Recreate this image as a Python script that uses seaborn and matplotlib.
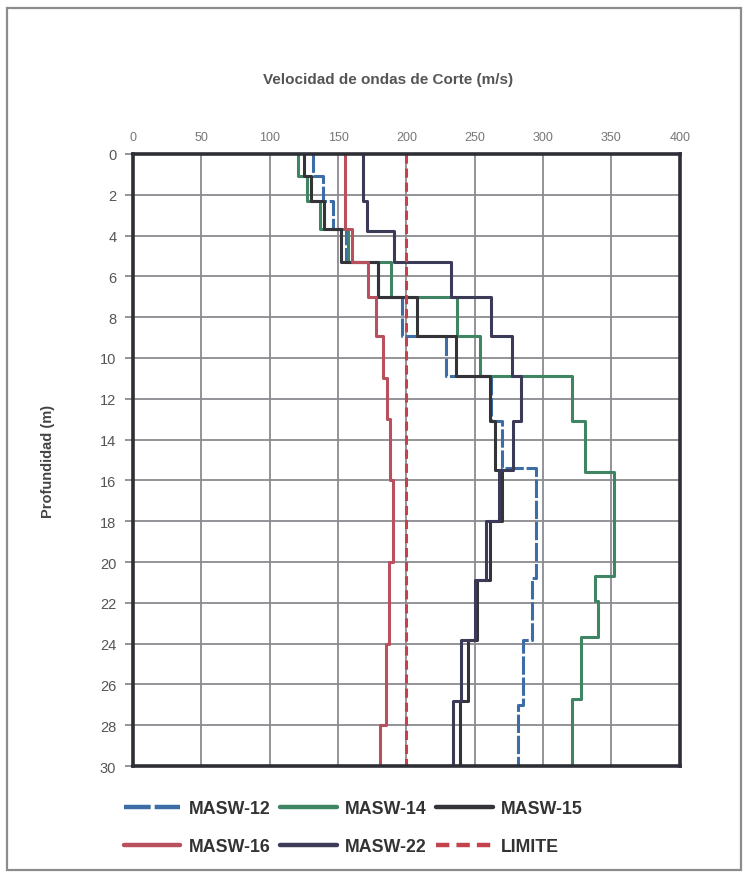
import pandas as pd
import seaborn as sns
import matplotlib.pyplot as plt
from matplotlib.patches import Rectangle

# Depth of the bottom of each layer (m); every layer starts where the previous ends
bottoms_12 = [1.1, 2.3, 3.7, 5.3, 7.0, 8.9, 10.9, 13.1, 15.4, 20.8, 23.8, 27.0, 30.0]
vs_12 = [132, 139, 146, 156, 179, 197, 229, 262, 270, 295, 292, 285, 282]

bottoms_14 = [1.1, 2.3, 3.7, 5.3, 7.0, 8.9, 10.9, 13.1, 15.6, 20.7, 21.9, 23.7, 26.7, 30.0]
vs_14 = [121, 127, 137, 157, 189, 237, 254, 321, 331, 352, 338, 340, 328, 321]

bottoms_15 = [1.1, 2.3, 3.7, 5.3, 7.0, 8.9, 10.9, 13.1, 15.5, 18.0, 20.9, 23.8, 26.8, 30.0]
vs_15 = [125, 130, 140, 152, 179, 208, 236, 261, 265, 270, 261, 252, 245, 239]

bottoms_16 = [3.7, 5.3, 7.0, 8.9, 11.0, 13.0, 16.0, 20.0, 24.0, 28.0, 30.0]
vs_16 = [155, 160, 172, 178, 183, 186, 188, 190, 187, 185, 181]

bottoms_22 = [2.3, 3.8, 5.3, 7.0, 8.9, 10.9, 13.1, 15.5, 18.0, 20.9, 23.8, 26.8, 30.0]
vs_22 = [168, 171, 191, 233, 262, 277, 284, 278, 268, 258, 250, 240, 234]

limite_vs = 200
series_names = ["MASW-12", "MASW-14", "MASW-15", "MASW-16", "MASW-22", "LIMITE"]
x_ticks = [0, 50, 100, 150, 200, 250, 300, 350, 400]
y_ticks = list(range(0, 31, 2))

colors = {
    "MASW-12": "#3d6da6",
    "MASW-14": "#3f8563",
    "MASW-15": "#333338",
    "MASW-16": "#b9505e",
    "MASW-22": "#3b3b58",
    "LIMITE": "#c4424c",
}
dashes = {
    "MASW-12": (6, 0.9),
    "MASW-14": "",
    "MASW-15": "",
    "MASW-16": "",
    "MASW-22": "",
    "LIMITE": (3, 1.6),
}


def step_profile(name, bottoms, vs):
    # turn layer list into a stair-step (velocity, depth) polyline
    rows = []
    top = 0.0
    for b, v in zip(bottoms, vs):
        rows.append((name, v, top))
        rows.append((name, v, b))
        top = b
    return rows


rows = []
rows += step_profile("MASW-12", bottoms_12, vs_12)
rows += step_profile("MASW-14", bottoms_14, vs_14)
rows += step_profile("MASW-15", bottoms_15, vs_15)
rows += step_profile("MASW-16", bottoms_16, vs_16)
rows += step_profile("MASW-22", bottoms_22, vs_22)
rows += step_profile("LIMITE", [30.0], [limite_vs])
df = pd.DataFrame(rows, columns=["serie", "vs", "prof"])

sns.set_style("white")
plt.rcParams["font.family"] = ["Liberation Sans", "DejaVu Sans"]

fig = plt.figure(figsize=(7.47, 8.78), dpi=100)
ax = fig.add_axes([0.178, 0.1264, 0.732, 0.6971])

sns.lineplot(data=df, x="vs", y="prof", hue="serie", style="serie",
             hue_order=series_names, style_order=series_names,
             palette=colors, dashes=dashes, sort=False, estimator=None,
             linewidth=2.2, ax=ax, legend=True)
for line in ax.get_lines():
    if line.get_label() == "LIMITE":
        line.set_linewidth(3.0)

ax.set_xlim(0, 400)
ax.set_ylim(30, 0)
ax.set_xticks(x_ticks)
ax.set_yticks(y_ticks)
ax.xaxis.tick_top()
ax.tick_params(axis="x", length=0, labelsize=9, labelcolor="#777777", pad=8)
ax.tick_params(axis="y", length=6, width=1.3, color="#8a8a90", labelsize=10.5,
               labelcolor="#555555", pad=6, left=True)
ax.grid(True, color="#8a8a90", linewidth=1.3)
for s in ax.spines.values():
    s.set_color("#2e2e36")
    s.set_linewidth(2.6)
ax.set_xlabel("")
ax.set_ylabel("Profundidad (m)", fontsize=10.5, fontweight="bold", color="#444444",
              labelpad=32)

fig.text(0.519, 0.909, "Velocidad de ondas de Corte (m/s)", ha="center", va="center",
         fontsize=11, fontweight="bold", color="#555555")

# legend below the plot, filled row by row
handles, labels = ax.get_legend_handles_labels()
ax.get_legend().remove()
lookup = dict(zip(labels, handles))
order = ["MASW-12", "MASW-16", "MASW-14", "MASW-22", "MASW-15", "LIMITE"]
leg = fig.legend([lookup[k] for k in order], order, loc="center",
                 bbox_to_anchor=(0.473, 0.056), ncol=3, frameon=False,
                 handlelength=3.2, handletextpad=0.45, columnspacing=0.55,
                 labelspacing=1.2, prop={"weight": "bold", "size": 12.8})
for t in leg.get_texts():
    t.set_color("#333333")
for h in leg.legend_handles:
    h.set_linewidth(3.2)

fig.patches.append(Rectangle((0.009, 0.008), 0.983, 0.982, transform=fig.transFigure,
                             fill=False, edgecolor="#8c8c8c", linewidth=1.6))

fig.savefig("out.png", dpi=100)
